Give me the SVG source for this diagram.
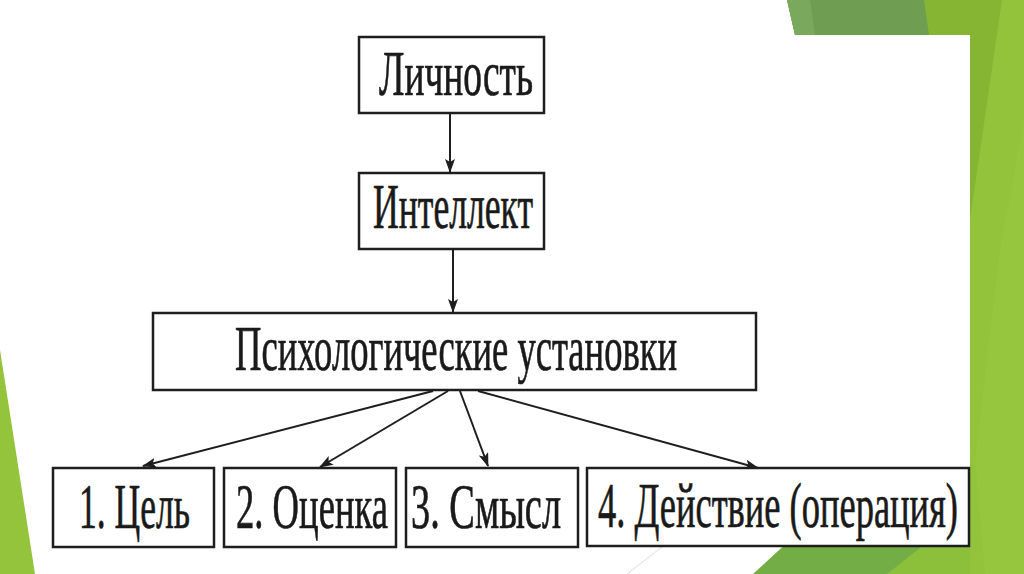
<svg xmlns="http://www.w3.org/2000/svg" width="1024" height="574" viewBox="0 0 1024 574">
  <style>
    .box { fill: #ffffff; stroke: #1e1e1e; stroke-width: 2.5; }
    .lbl { font-family: "Liberation Serif", "Times New Roman", serif; font-size: 63px; fill: #1a1a1a; stroke: #1a1a1a; stroke-width: 0.7; }
    .con { stroke: #1e1e1e; stroke-width: 2; fill: none; marker-end: url(#arr); }
  </style>
  <defs>
    <marker id="arr" markerUnits="userSpaceOnUse" markerWidth="14" markerHeight="10" refX="13" refY="5" orient="auto">
      <path d="M0,0 L14,5 L0,10 L3,5 Z" fill="#1e1e1e"/>
    </marker>
  </defs>

  <g id="background">
    <rect x="0" y="0" width="1024" height="574" fill="#ffffff"/>
    <polygon points="787,0 1024,0 1024,574 970,574 970,35 795,35" fill="#86b534"/>
    <polygon points="787,0 924,0 929,35 795,35" fill="#6f9d52"/>
    <polygon points="787,0 810,0 815,35 795,35" fill="#7aa95e"/>
    <polygon points="1002,0 1024,0 1024,574 970,574 970,220" fill="#93c33b"/>
    <polygon points="1000,250 1024,120 1024,574 985,574 975,460" fill="#97c640" opacity="0.8"/>
    <polygon points="753,574 790,540 970,540 970,574" fill="#72ad45"/>
    <polygon points="887,574 930,540 970,540 970,574" fill="#8cc03b"/>
    <line x1="627" y1="574" x2="667" y2="543" stroke="#dcdcdc" stroke-width="1"/>
    <polygon points="0,350 35,574 0,574" fill="#94c33c"/>
  </g>

  <g id="connectors">
    <line class="con" x1="450" y1="113" x2="450" y2="172"/>
    <line class="con" x1="453" y1="249" x2="453" y2="312"/>
    <line class="con" x1="433" y1="391" x2="143" y2="466"/>
    <line class="con" x1="448" y1="391" x2="320" y2="467"/>
    <line class="con" x1="460" y1="391" x2="488" y2="466"/>
    <line class="con" x1="478" y1="391" x2="758" y2="468"/>
  </g>

  <g id="node-lichnost">
    <rect class="box" x="359" y="37" width="185" height="76"/>
    <text class="lbl" transform="translate(379,95) scale(0.6,1)" x="0" y="0" textLength="256.7" lengthAdjust="spacingAndGlyphs">Личность</text>
  </g>

  <g id="node-intellekt">
    <rect class="box" x="359" y="173" width="185" height="76"/>
    <text class="lbl" transform="translate(373,228) scale(0.6,1)" x="0" y="0" textLength="266.7" lengthAdjust="spacingAndGlyphs">Интеллект</text>
  </g>

  <g id="node-ustanovki">
    <rect class="box" x="153" y="313" width="603" height="77"/>
    <text class="lbl" transform="translate(235,370) scale(0.6,1)" x="0" y="0" textLength="736.7" lengthAdjust="spacingAndGlyphs">Психологические установки</text>
  </g>

  <g id="node-cel">
    <rect class="box" x="53" y="468" width="161" height="79"/>
    <text class="lbl" transform="translate(79,528) scale(0.6,1)" x="0" y="0" textLength="185" lengthAdjust="spacingAndGlyphs">1. Цель</text>
  </g>

  <g id="node-ocenka">
    <rect class="box" x="224" y="468" width="172" height="79"/>
    <text class="lbl" transform="translate(236,528) scale(0.6,1)" x="0" y="0" textLength="253.3" lengthAdjust="spacingAndGlyphs">2. Оценка</text>
  </g>

  <g id="node-smysl">
    <rect class="box" x="406" y="468" width="172" height="79"/>
    <text class="lbl" transform="translate(411,528) scale(0.6,1)" x="0" y="0" textLength="250" lengthAdjust="spacingAndGlyphs">3. Смысл</text>
  </g>

  <g id="node-deystvie">
    <rect class="box" x="587" y="468" width="382" height="78"/>
    <text class="lbl" transform="translate(598,527) scale(0.6,1)" x="0" y="0" textLength="600" lengthAdjust="spacingAndGlyphs">4. Действие (операция)</text>
  </g>
</svg>
